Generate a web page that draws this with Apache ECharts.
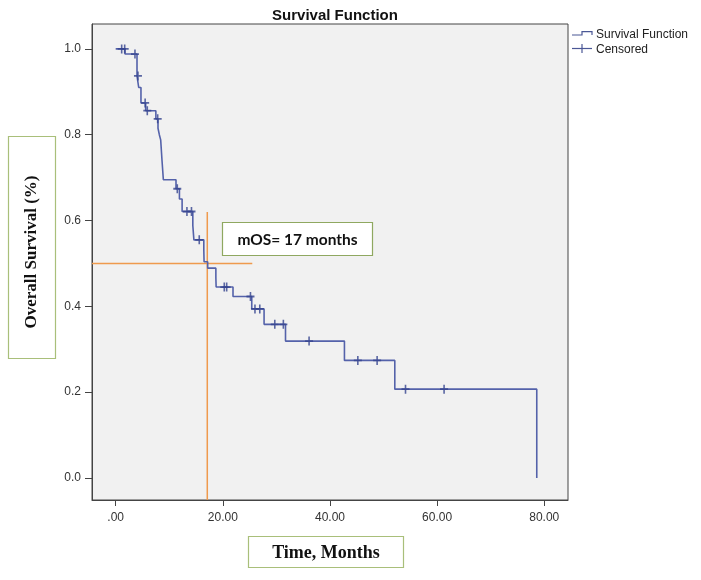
<!DOCTYPE html>
<html>
<head>
<meta charset="utf-8">
<script src="https://cdn.jsdelivr.net/npm/echarts@6/dist/echarts.min.js"></script>
<style>
html,body{margin:0;padding:0;background:#ffffff;}
#chart{width:701px;height:580px;}
</style>
</head>
<body>
<div id="chart"></div>
<script>
// Kaplan-Meier step points: time (months) and survival after the event
var survTimes = [0, 1.74, 3.98, 4.3, 4.72, 5.6, 7.5, 7.9, 8.15, 8.4, 8.65, 8.9, 11.26, 11.9, 12.4, 14.4, 14.6, 16.45, 16.5, 17.17, 18.7, 18.75, 21.9, 25.4, 27.7, 31.7, 42.7, 52.1, 78.6];
var survProbs = [1.0, 0.988, 0.937, 0.91, 0.874, 0.856, 0.837, 0.815, 0.80, 0.788, 0.74, 0.695, 0.674, 0.65, 0.621, 0.588, 0.555, 0.53, 0.504, 0.489, 0.467, 0.445, 0.423, 0.394, 0.358, 0.319, 0.274, 0.207, 0];
// Censored observations
var censorTimes = [1.12, 1.68, 3.6, 4.16, 5.5, 5.9, 7.84, 11.5, 13.3, 14.15, 15.6, 20.27, 20.72, 25.16, 26.0, 26.9, 29.7, 31.3, 36.1, 45.2, 48.8, 54.1, 61.3];
var censorProbs = [1.0, 1.0, 0.988, 0.937, 0.874, 0.856, 0.837, 0.674, 0.621, 0.621, 0.555, 0.445, 0.445, 0.423, 0.394, 0.394, 0.358, 0.358, 0.319, 0.274, 0.274, 0.207, 0.207];
// Axis ticks
var xTicks = [0, 20, 40, 60, 80];
var yTicks = [0, 0.2, 0.4, 0.6, 0.8, 1.0];
var xRange = [-4.42, 84.43];
var yRange = [-0.0513, 1.058];
// Median reference lines
var medianTime = 17.1;
var medianSurv = 0.5;
var medianHEnd = 25.5;
var medianVTop = 0.62;

var survData = survTimes.map(function (t, i) { return [t, survProbs[i]]; });
var censorData = censorTimes.map(function (t, i) { return [t, censorProbs[i]]; });

var chart = echarts.init(document.getElementById('chart'), null, {renderer: 'canvas'});
var axisFont = 'Liberation Sans, Arial, sans-serif';
var plusPath = 'path://M3.6,0H5.4V3.6H9V5.4H5.4V9H3.6V5.4H0V3.6H3.6Z';

var option = {
  animation: false,
  backgroundColor: '#ffffff',
  title: {
    text: 'Survival Function',
    left: 330, top: 3, textAlign: 'center',
    textStyle: {fontFamily: axisFont, fontWeight: 'bold', fontSize: 15, color: '#111'}
  },
  grid: {
    left: 92, top: 24, right: 133, bottom: 80,
    show: true, backgroundColor: '#f1f1f1', borderColor: '#444', borderWidth: 1
  },
  xAxis: {
    type: 'value', min: xRange[0], max: xRange[1],
    splitLine: {show: false},
    axisLine: {show: true, onZero: false, lineStyle: {color: '#444', width: 1}},
    axisTick: {show: true, inside: false, customValues: xTicks, length: 6, lineStyle: {color: '#444'}},
    axisLabel: {
      customValues: xTicks, margin: 12, fontSize: 12, fontFamily: axisFont, color: '#333',
      formatter: function (v) { return v === 0 ? '.00' : v.toFixed(2); }
    }
  },
  yAxis: {
    type: 'value', min: yRange[0], max: yRange[1],
    splitLine: {show: false},
    axisLine: {show: true, onZero: false, lineStyle: {color: '#444', width: 1}},
    axisTick: {show: true, inside: false, customValues: yTicks, length: 7, lineStyle: {color: '#444'}},
    axisLabel: {
      customValues: yTicks, margin: 11, fontSize: 12, fontFamily: axisFont, color: '#333',
      formatter: function (v) { return v.toFixed(1); }
    }
  },
  series: [
    {
      name: 'Median horizontal', type: 'line', silent: true, symbol: 'none',
      data: [[xRange[0], medianSurv], [medianHEnd, medianSurv]],
      lineStyle: {color: '#ef9a4d', width: 1.5}, z: 1
    },
    {
      name: 'Median vertical', type: 'line', silent: true, symbol: 'none',
      data: [[medianTime, yRange[0]], [medianTime, medianVTop]],
      lineStyle: {color: '#ef9a4d', width: 1.5}, z: 1
    },
    {
      name: 'Survival Function', type: 'line', step: 'end', symbol: 'none',
      data: survData,
      lineStyle: {color: '#5462aa', width: 1.6}, z: 3
    },
    {
      name: 'Censored', type: 'scatter', symbol: plusPath, symbolSize: [8, 9],
      data: censorData,
      itemStyle: {color: '#34438f'}, z: 4
    }
  ],
  graphic: [
    // legend
    {type: 'polyline', shape: {points: [[572, 35], [582, 35], [582, 31.7], [592, 31.7], [592, 35]]},
     style: {stroke: '#4b5896', lineWidth: 1.2, fill: null}},
    {type: 'text', x: 596, y: 35, style: {text: 'Survival Function', fontSize: 12, fontFamily: axisFont, fill: '#222', textVerticalAlign: 'middle'}},
    {type: 'line', shape: {x1: 572, y1: 48.5, x2: 592, y2: 48.5}, style: {stroke: '#4b5896', lineWidth: 1.2}},
    {type: 'line', shape: {x1: 582, y1: 44, x2: 582, y2: 53}, style: {stroke: '#4b5896', lineWidth: 1.2}},
    {type: 'text', x: 596, y: 50, style: {text: 'Censored', fontSize: 12, fontFamily: axisFont, fill: '#222', textVerticalAlign: 'middle'}},
    // mOS annotation
    {type: 'rect', shape: {x: 222.5, y: 222.5, width: 150, height: 33},
     style: {fill: '#ffffff', stroke: '#8fa860', lineWidth: 1.2}, z: 10},
    {type: 'text', x: 297.5, y: 239.5, z: 11,
     style: {text: 'mOS= 17 months', fontSize: 15.5, fontWeight: 'bold', fontFamily: 'Lato, Open Sans, sans-serif', fill: '#111', textAlign: 'center', textVerticalAlign: 'middle'}},
    // y-axis title box
    {type: 'rect', shape: {x: 8.5, y: 136.5, width: 47, height: 222},
     style: {fill: '#ffffff', stroke: '#a9bf7a', lineWidth: 1.2}},
    {type: 'text', x: 32, y: 252, rotation: Math.PI / 2,
     style: {text: 'Overall Survival (%)', fontSize: 17, fontWeight: 'bold', fontFamily: 'Liberation Serif, Times New Roman, serif', fill: '#111', textAlign: 'center', textVerticalAlign: 'middle'}},
    // x-axis title box
    {type: 'rect', shape: {x: 248.5, y: 536.5, width: 155, height: 31},
     style: {fill: '#ffffff', stroke: '#a9bf7a', lineWidth: 1.2}},
    {type: 'text', x: 326, y: 553,
     style: {text: 'Time, Months', fontSize: 18, fontWeight: 'bold', fontFamily: 'Liberation Serif, Times New Roman, serif', fill: '#111', textAlign: 'center', textVerticalAlign: 'middle'}}
  ]
};
chart.setOption(option);
</script>
</body>
</html>
